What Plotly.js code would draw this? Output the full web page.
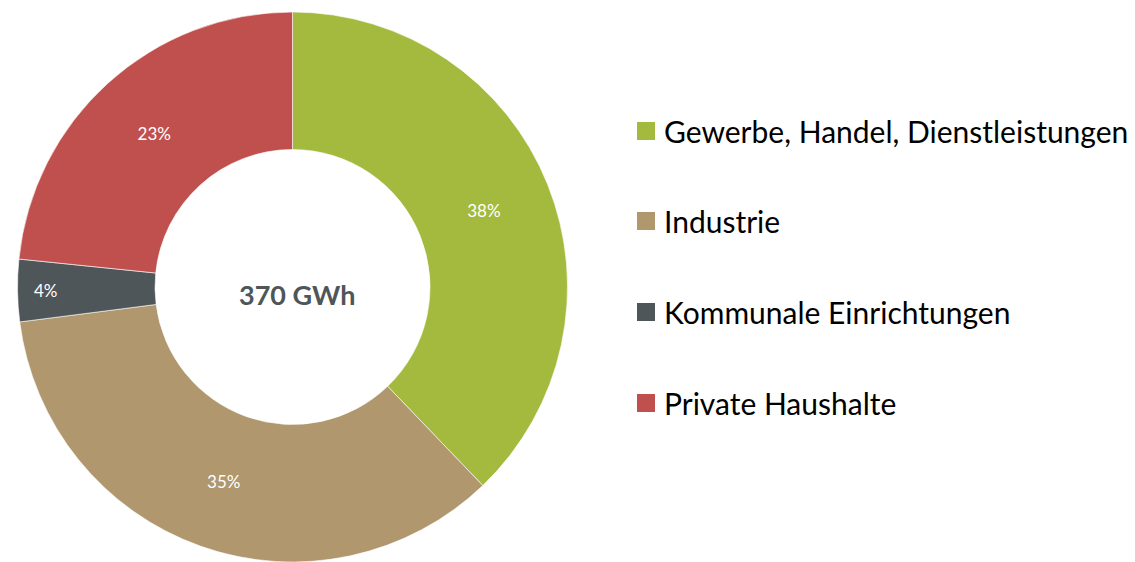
<!DOCTYPE html>
<html>
<head>
<meta charset="utf-8">
<script src="https://cdn.plot.ly/plotly-3.0.1.min.js"></script>
<style>html,body{margin:0;padding:0;background:#fff;}#chart{width:1135px;height:562px;}</style>
</head>
<body>
<div id="chart"></div>
<script>
const labels = ["Gewerbe, Handel, Dienstleistungen", "Industrie", "Kommunale Einrichtungen", "Private Haushalte"];
const values = [140, 130, 13.5, 86.5];
const colors = ["#a3ba3e", "#b0976e", "#4f5659", "#c0504d"];
const centerLabel = "370 GWh";

const W = 1135, H = 562, MT = 12;
const PH = H - MT;
const FONT = "Lato, 'Open Sans', sans-serif";
const px = x => x / W;
const py = y => 1 - (y - MT) / PH;

const trace = {
  type: "pie",
  labels: labels,
  values: values,
  hole: 0.5,
  sort: false,
  direction: "clockwise",
  rotation: 0,
  marker: {colors: colors, line: {color: "#ffffff", width: 0.6}},
  texttemplate: "%{percent:.0%}",
  textposition: "inside",
  insidetextorientation: "horizontal",
  textfont: {color: "#ffffff", size: 17, family: FONT},
  domain: {x: [0, 585 / W], y: [0, 1]},
  showlegend: false,
  hoverinfo: "label+percent"
};

// legend drawn as shapes + annotations from the arrays
const legX0 = 637, legSize = 18, legTextX = 662;
const legY = [131, 221, 312, 403];
const shapes = labels.map((l, i) => ({
  type: "rect", xref: "paper", yref: "paper",
  x0: px(legX0), x1: px(legX0 + legSize),
  y0: py(legY[i] + legSize / 2), y1: py(legY[i] - legSize / 2),
  fillcolor: colors[i], line: {width: 0}
}));
const annotations = labels.map((l, i) => ({
  text: l, xref: "paper", yref: "paper",
  x: px(legTextX), y: py(legY[i]),
  xanchor: "left", yanchor: "middle", showarrow: false,
  font: {family: FONT, size: 30, color: "#000000"}
}));
annotations.push({
  text: "<b>" + centerLabel + "</b>", xref: "paper", yref: "paper",
  x: px(297), y: py(294), xanchor: "center", yanchor: "middle", showarrow: false,
  font: {family: FONT, size: 27, color: "#4f5659"}
});

const layout = {
  width: W, height: H,
  margin: {l: 0, r: 0, t: MT, b: 0},
  paper_bgcolor: "#ffffff",
  plot_bgcolor: "#ffffff",
  showlegend: false,
  shapes: shapes,
  annotations: annotations
};

Plotly.newPlot("chart", [trace], layout, {displayModeBar: false, staticPlot: true});
</script>
</body>
</html>
